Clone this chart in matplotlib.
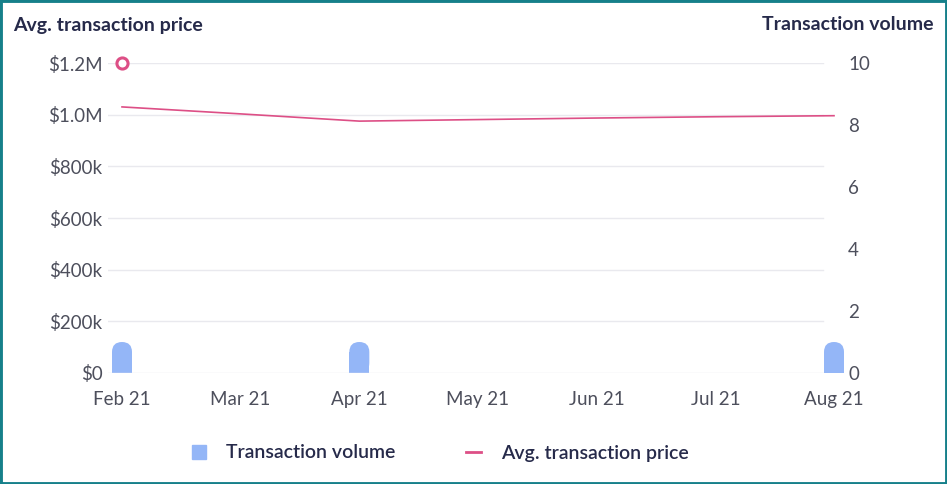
import matplotlib
matplotlib.use("Agg")
import matplotlib.pyplot as plt
from matplotlib.patches import FancyBboxPatch, Rectangle
from matplotlib.lines import Line2D
from matplotlib.ticker import FuncFormatter

months = ["Feb 21", "Mar 21", "Apr 21", "May 21", "Jun 21", "Jul 21", "Aug 21"]
volume = [1, 0, 1, 0, 0, 0, 1]
avg_price = [1030000, 1003000, 975000, 981000, 987000, 992000, 996000]
highlight_price = 1200000  # hollow marker shown on the first month

BAR_COLOR = "#94b6f7"
LINE_COLOR = "#dd4f86"
TEXT_DARK = "#262a4a"
TICK_GRAY = "#4d4f5c"
GRID_GRAY = "#e9e9ee"
FS = 13.5

plt.rcParams["font.family"] = ["Lato", "DejaVu Sans"]

W, H = 947, 484
fig = plt.figure(figsize=(W / 100, H / 100), dpi=100)

# plot area in pixels
left_px, right_px, top_px, bottom_px = 108, 848, 63, 373
ax = fig.add_axes([left_px / W, 1 - bottom_px / H,
                   (right_px - left_px) / W, (bottom_px - top_px) / H])
ax2 = ax.twinx()

x = list(range(len(months)))
px_per_unit = (834 - 122) / (len(months) - 1)
pad_units = 14 / px_per_unit
ax.set_xlim(-pad_units, len(months) - 1 + pad_units)

ax.set_ylim(0, 1200000)
ax2.set_ylim(0, 10)

# grid lines stop short of the right edge
grid_end = (823 - left_px) / (right_px - left_px)
for v in range(0, 1200001, 200000):
    ax.axhline(v, xmin=0, xmax=grid_end, color=GRID_GRAY, lw=1.0, zorder=0)

# rounded-top bars on the volume axis
bar_w_px = 20
bar_w = bar_w_px / px_per_unit
r_x = bar_w / 2
y_per_px = 10 / (bottom_px - top_px)
r_y = (bar_w_px / 2) * y_per_px
for xi, v in zip(x, volume):
    if v <= 0:
        continue
    ax2.add_patch(FancyBboxPatch((xi - bar_w / 2, 0), bar_w, v,
                                 boxstyle=f"round,pad=0,rounding_size={r_x}",
                                 mutation_aspect=r_y / r_x,
                                 fc=BAR_COLOR, ec="none", zorder=2))
    ax2.add_patch(Rectangle((xi - bar_w / 2, 0), bar_w, v - r_y,
                            fc=BAR_COLOR, ec="none", zorder=2))

ax.plot(x, avg_price, color=LINE_COLOR, lw=1.2, zorder=3)
ax.plot([x[0]], [highlight_price], marker="o", ms=8, mfc="white",
        mec=LINE_COLOR, mew=2.2, clip_on=False, zorder=4)

ax.set_zorder(ax2.get_zorder() + 1)
ax.patch.set_visible(False)

def money(v, pos):
    if v == 0:
        return "$0"
    if v >= 1000000:
        return f"${v / 1000000:.1f}M"
    return f"${int(v / 1000)}k"

ax.set_yticks(range(0, 1200001, 200000))
ax.yaxis.set_major_formatter(FuncFormatter(money))
ax2.set_yticks(range(0, 11, 2))
ax.set_xticks(x)
ax.set_xticklabels(months)

for a in (ax, ax2):
    for s in a.spines.values():
        s.set_visible(False)
ax.tick_params(axis="both", length=0, labelsize=FS, labelcolor=TICK_GRAY)
ax.tick_params(axis="x", pad=13)
ax.tick_params(axis="y", pad=4)
ax2.tick_params(axis="y", length=0, labelsize=FS, labelcolor=TICK_GRAY, pad=0)

fig.text(13 / W, 1 - 25 / H, "Avg. transaction price", fontsize=14,
         fontweight="bold", color=TEXT_DARK, ha="left", va="center")
fig.text(933 / W, 1 - 25 / H, "Transaction volume", fontsize=14,
         fontweight="bold", color=TEXT_DARK, ha="right", va="center")

handles = [Line2D([], [], marker="s", ls="none", ms=10, mfc=BAR_COLOR, mec=BAR_COLOR),
           Line2D([], [], color=LINE_COLOR, lw=2)]
fig.legend(handles, ["Transaction volume", "Avg. transaction price"],
           loc="center", bbox_to_anchor=(440 / W, 1 - 453 / H), ncol=2,
           frameon=False, prop={"size": 14, "weight": "semibold"},
           labelcolor=TEXT_DARK,
           handlelength=0.8, handletextpad=1.0, columnspacing=3.6)

# teal frame around the picture
fig.patches.append(Rectangle((0, 0), 1, 1, transform=fig.transFigure,
                             fill=False, ec="#16808a", lw=3.5))

fig.savefig("out.png", dpi=100)
